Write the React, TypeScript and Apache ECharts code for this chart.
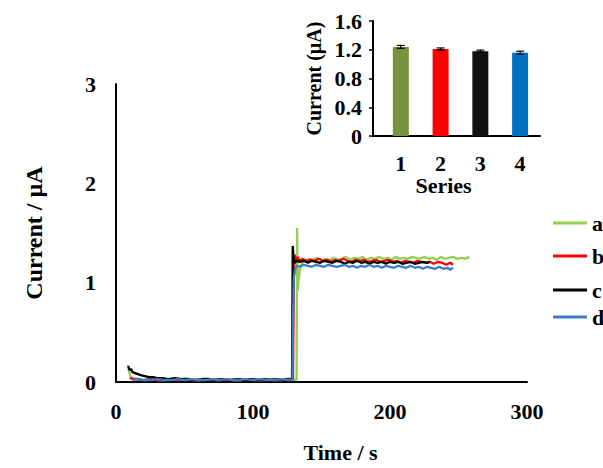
import React, { useEffect, useRef } from 'react';
import * as echarts from 'echarts';

// ---------- data ----------
const seriesNames = ['a', 'b', 'c', 'd'];

// time (s), current (µA)
const curveA: [number, number][] = [
  [8.5, 0.17], [9.5, 0.11], [10.5, 0.06], [12, 0.04], [14, 0.03], [17, 0.03],
  [21, 0.02], [26, 0.03], [31, 0.02], [36, 0.02], [41, 0.03], [46, 0.02], [51, 0.03], [56, 0.02],
  [61, 0.02], [66, 0.03], [71, 0.02], [76, 0.02], [81, 0.03], [86, 0.02], [91, 0.02], [96, 0.03],
  [101, 0.02], [106, 0.02], [111, 0.03], [116, 0.02], [121, 0.02], [126, 0.03],
  [131.8, 0.02], [132.2, 1.55], [132.6, 0.92], [133.5, 1.05], [134.5, 1.15], [136, 1.2],
  [138, 1.22], [141, 1.24], [144, 1.23], [147, 1.25], [150, 1.22], [153, 1.24], [156, 1.23],
  [159, 1.25], [162, 1.23], [165, 1.24], [168, 1.26], [171, 1.23], [174, 1.25], [177, 1.24],
  [180, 1.26], [183, 1.23], [186, 1.25], [189, 1.24], [192, 1.26], [195, 1.24], [198, 1.25],
  [201, 1.23], [204, 1.26], [207, 1.24], [210, 1.25], [213, 1.24], [216, 1.26], [219, 1.25],
  [222, 1.24], [225, 1.26], [228, 1.24], [231, 1.25], [234, 1.23], [237, 1.26], [240, 1.24],
  [243, 1.25], [246, 1.26], [249, 1.24], [252, 1.25], [255, 1.24], [258, 1.26],
];

const curveB: [number, number][] = [
  [10, 0.04], [12, 0.03], [15, 0.03], [20, 0.02], [25, 0.03], [30, 0.02], [35, 0.02], [40, 0.03],
  [45, 0.02], [50, 0.03], [55, 0.02], [60, 0.02], [65, 0.03], [70, 0.02], [75, 0.03], [80, 0.02],
  [85, 0.02], [90, 0.03], [95, 0.02], [100, 0.03], [105, 0.02], [110, 0.02], [115, 0.03],
  [120, 0.02], [125, 0.03], [129.2, 0.03], [129.8, 1.1], [130.5, 1.28], [131.5, 1.22],
  [132.5, 1.26], [134, 1.22], [136, 1.24], [139, 1.22], [142, 1.23], [145, 1.22], [148, 1.24],
  [151, 1.22], [154, 1.23], [157, 1.21], [160, 1.23], [163, 1.22], [166, 1.24], [169, 1.22],
  [172, 1.21], [175, 1.23], [178, 1.22], [181, 1.23], [184, 1.21], [187, 1.22], [190, 1.23],
  [193, 1.21], [196, 1.22], [199, 1.23], [202, 1.21], [205, 1.22], [208, 1.2], [211, 1.22],
  [214, 1.21], [217, 1.2], [220, 1.22], [223, 1.21], [226, 1.2], [229, 1.21], [232, 1.19],
  [235, 1.21], [238, 1.2], [241, 1.18], [244, 1.2], [246, 1.18],
];

const curveC: [number, number][] = [
  [9, 0.16], [10, 0.12], [11, 0.13], [12, 0.1], [14, 0.09], [16, 0.08], [18, 0.07], [21, 0.06],
  [24, 0.05], [27, 0.05], [30, 0.04], [34, 0.04], [38, 0.03], [43, 0.04], [48, 0.03], [53, 0.03],
  [58, 0.02], [63, 0.03], [68, 0.03], [73, 0.02], [78, 0.03], [83, 0.02], [88, 0.03], [93, 0.02],
  [98, 0.03], [103, 0.02], [108, 0.03], [113, 0.02], [118, 0.03], [123, 0.02], [128.5, 0.03],
  [129, 1.37], [129.6, 1.25], [130.5, 1.2], [132, 1.22], [134, 1.21], [137, 1.22], [140, 1.2],
  [143, 1.22], [146, 1.21], [149, 1.2], [152, 1.22], [155, 1.21], [158, 1.2], [161, 1.22],
  [164, 1.21], [167, 1.19], [170, 1.21], [173, 1.2], [176, 1.22], [179, 1.2], [182, 1.21],
  [185, 1.19], [188, 1.21], [191, 1.2], [194, 1.21], [197, 1.19], [200, 1.21], [203, 1.2],
  [206, 1.21], [209, 1.19], [212, 1.2], [215, 1.21], [218, 1.19], [221, 1.2], [224, 1.21],
  [227, 1.2], [229, 1.21],
];

const curveD: [number, number][] = [
  [12, 0.02], [15, 0.03], [20, 0.02], [25, 0.02], [30, 0.03], [35, 0.02], [40, 0.02], [45, 0.03],
  [50, 0.02], [55, 0.03], [60, 0.02], [65, 0.02], [70, 0.03], [75, 0.02], [80, 0.03], [85, 0.02],
  [90, 0.02], [95, 0.03], [100, 0.02], [105, 0.03], [110, 0.02], [115, 0.02], [120, 0.03],
  [125, 0.02], [128.8, 0.02], [129.2, 0.6], [129.8, 1.05], [130.8, 1.13], [132, 1.17],
  [134, 1.16], [137, 1.18], [140, 1.17], [143, 1.16], [146, 1.18], [149, 1.17], [152, 1.16],
  [155, 1.18], [158, 1.17], [161, 1.16], [164, 1.17], [167, 1.18], [170, 1.16], [173, 1.17],
  [176, 1.15], [179, 1.17], [182, 1.16], [185, 1.18], [188, 1.16], [191, 1.17], [194, 1.15],
  [197, 1.17], [200, 1.16], [203, 1.15], [206, 1.17], [209, 1.16], [212, 1.15], [215, 1.17],
  [218, 1.15], [221, 1.16], [224, 1.14], [227, 1.16], [230, 1.15], [233, 1.14], [236, 1.16],
  [239, 1.14], [242, 1.15], [244, 1.13], [246, 1.15],
];

// inset bar chart
const barCategories = [1, 2, 3, 4];
const barValues = [1.24, 1.21, 1.18, 1.16];
const barErrors = [0.02, 0.015, 0.015, 0.02];

// ---------- styles ----------
const lineColors = ['#92D050', '#FF0000', '#000000', '#3C7DC4'];
const barColors = ['#77933C', '#FF0000', '#111111', '#0070C0'];
const FONT = "'Liberation Serif', 'Times New Roman', serif";
const txt = (size: number) => ({ fontFamily: FONT, fontWeight: 'bold' as const, fontSize: size, color: '#000' });
const axisLineStyle = { show: true, lineStyle: { color: '#000', width: 2 } };

export default function App() {
  const ref = useRef<HTMLDivElement>(null);

  useEffect(() => {
    if (!ref.current) return;
    const chart = echarts.init(ref.current, undefined, { renderer: 'svg' });
    const curves = [curveA, curveB, curveC, curveD];
    const legendTops = [212, 245, 279, 306];

    const option: any = {
      animation: false,
      backgroundColor: '#fff',
      grid: [
        { left: 116, right: 76, top: 84, bottom: 79 },
        { left: 373, right: 63, top: 21, bottom: 332 },
      ],
      legend: seriesNames.map((n, i) => ({
        data: [n],
        left: 553,
        top: legendTops[i],
        padding: 0,
        icon: 'rect',
        itemWidth: 34,
        itemHeight: 3,
        textStyle: txt(22),
        selectedMode: false,
      })),
      xAxis: [
        {
          type: 'value', gridIndex: 0, min: 0, max: 300, interval: 100,
          name: 'Time / s', nameLocation: 'middle', nameGap: 59,
          nameTextStyle: { ...txt(22), padding: [0, 0, 0, 38] },
          axisLine: axisLineStyle, axisTick: { show: false }, splitLine: { show: false },
          axisLabel: { ...txt(22), margin: 18 },
        },
        {
          type: 'value', gridIndex: 1, min: 0.3, max: 4.5, interval: 0.1,
          name: 'Series', nameLocation: 'middle', nameGap: 37,
          nameTextStyle: { ...txt(22), padding: [0, 26, 0, 0] },
          axisLine: axisLineStyle, axisTick: { show: false }, splitLine: { show: false },
          axisLabel: {
            ...txt(22), margin: 16,
            formatter: (v: number) => {
              const r = Math.round(v);
              return Math.abs(v - r) < 1e-6 && barCategories.includes(r) ? String(r) : '';
            },
          },
        },
      ],
      yAxis: [
        {
          type: 'value', gridIndex: 0, min: 0, max: 3, interval: 1,
          name: 'Current / µA', nameLocation: 'middle', nameGap: 70,
          nameTextStyle: { ...txt(24), padding: [0, 0, 0, 0] },
          axisLine: axisLineStyle, axisTick: { show: false }, splitLine: { show: false },
          axisLabel: { ...txt(22), margin: 20 },
        },
        {
          type: 'value', gridIndex: 1, min: 0, max: 1.6, interval: 0.4,
          name: 'Current (µA)', nameLocation: 'middle', nameGap: 49,
          nameTextStyle: txt(20),
          axisLine: axisLineStyle, axisTick: { show: true, length: 4, lineStyle: { color: '#000', width: 1.5 } },
          splitLine: { show: false },
          axisLabel: { ...txt(22), margin: 11, formatter: (v: number) => (v === 0 ? '0' : v.toFixed(1)) },
        },
      ],
      series: [
        ...curves.map((c, i) => ({
          name: seriesNames[i],
          type: 'line',
          xAxisIndex: 0,
          yAxisIndex: 0,
          data: c,
          symbol: 'none',
          lineStyle: { color: lineColors[i], width: 2.3 },
          itemStyle: { color: lineColors[i] },
          z: 2 + i,
        })),
        {
          name: 'bars',
          type: 'bar',
          xAxisIndex: 1,
          yAxisIndex: 1,
          barWidth: 16,
          data: barCategories.map((c, i) => ({ value: [c, barValues[i]], itemStyle: { color: barColors[i] } })),
        },
        {
          name: 'errors',
          type: 'custom',
          xAxisIndex: 1,
          yAxisIndex: 1,
          z: 5,
          data: barCategories.map((c, i) => [c, barValues[i], barErrors[i]]),
          renderItem: (params: any, api: any) => {
            const x = api.value(0);
            const y = api.value(1);
            const e = api.value(2);
            const top = api.coord([x, y + e]);
            const bot = api.coord([x, y - e]);
            const cap = 4;
            const st = { stroke: '#000', lineWidth: 1.2 };
            return {
              type: 'group',
              children: [
                { type: 'line', shape: { x1: top[0], y1: top[1], x2: bot[0], y2: bot[1] }, style: st },
                { type: 'line', shape: { x1: top[0] - cap, y1: top[1], x2: top[0] + cap, y2: top[1] }, style: st },
                { type: 'line', shape: { x1: bot[0] - cap, y1: bot[1], x2: bot[0] + cap, y2: bot[1] }, style: st },
              ],
            };
          },
        },
      ],
    };
    chart.setOption(option);
    return () => chart.dispose();
  }, []);

  return <div ref={ref} style={{ width: 603, height: 468, position: 'absolute', left: 0, top: 0 }} />;
}
